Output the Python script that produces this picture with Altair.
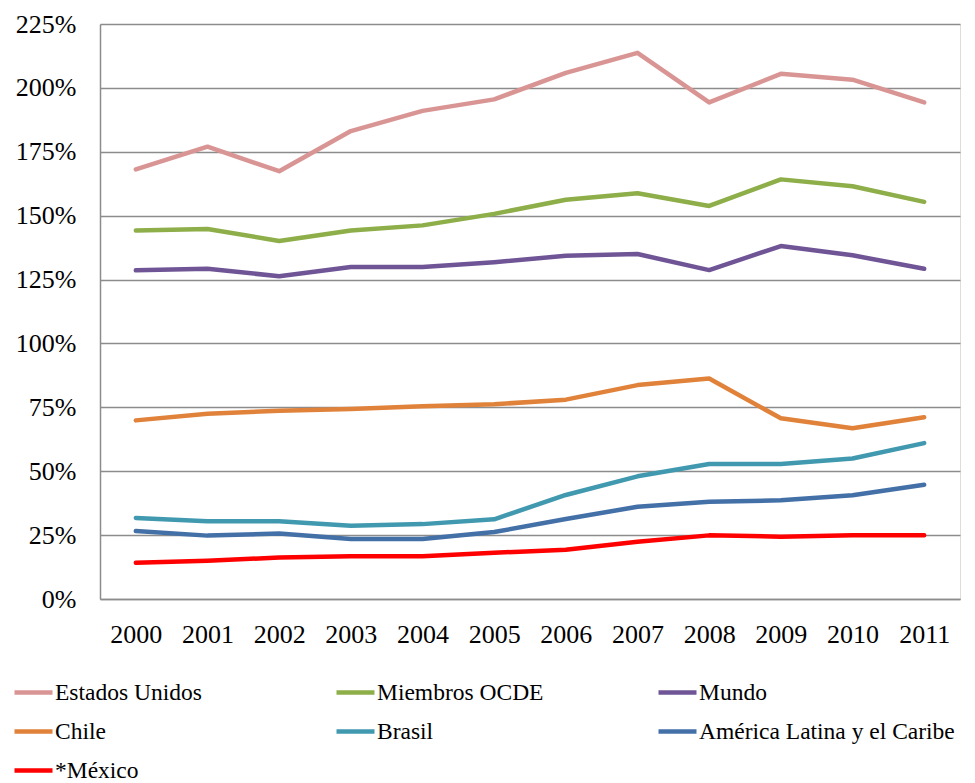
import altair as alt
import pandas as pd

years = ["2000", "2001", "2002", "2003", "2004", "2005", "2006", "2007", "2008", "2009", "2010", "2011"]
series_names = ["Estados Unidos", "Miembros OCDE", "Mundo", "Chile", "Brasil",
                "América Latina y el Caribe", "*México"]
colors = ["#D99594", "#8DAE48", "#6F5596", "#E0823A", "#4199B0", "#4470A8", "#FF0000"]

estados_unidos = [168.1, 177.0, 167.4, 183.1, 191.0, 195.5, 205.9, 213.7, 194.3, 205.5, 203.2, 194.3]
miembros_ocde = [144.2, 144.8, 140.1, 144.2, 146.2, 150.7, 156.2, 158.8, 153.8, 164.2, 161.5, 155.4]
mundo = [128.6, 129.2, 126.3, 129.9, 129.9, 131.8, 134.3, 135.0, 128.7, 138.1, 134.5, 129.2]
chile = [69.9, 72.5, 73.7, 74.3, 75.4, 76.2, 78.0, 83.7, 86.3, 70.7, 66.8, 71.1]
brasil = [31.7, 30.4, 30.4, 28.7, 29.3, 31.2, 40.7, 48.0, 52.8, 52.8, 55.0, 61.0]
america_latina = [26.6, 24.8, 25.6, 23.5, 23.5, 26.2, 31.3, 36.1, 38.1, 38.6, 40.6, 44.7]
mexico = [14.2, 15.0, 16.2, 16.7, 16.7, 18.1, 19.3, 22.4, 24.9, 24.4, 24.9, 24.9]
y_ticks = [0, 25, 50, 75, 100, 125, 150, 175, 200, 225]

all_values = [estados_unidos, miembros_ocde, mundo, chile, brasil, america_latina, mexico]
rows = []
for i, (name, vals) in enumerate(zip(series_names, all_values)):
    for yr, v in zip(years, vals):
        rows.append({"Año": yr, "Serie": name, "Valor": v, "orden": i})
df = pd.DataFrame(rows)

FONT = "Liberation Serif"

chart = alt.Chart(df).mark_line(strokeWidth=4.5, strokeCap="round", strokeJoin="round").encode(
    x=alt.X("Año:O", sort=years,
            scale=alt.Scale(type="point", padding=0.5),
            axis=alt.Axis(title=None, labelAngle=0, ticks=False, grid=False,
                          labelFont=FONT, labelFontSize=26, labelColor="black",
                          labelPadding=22, domainColor="#8c8c8c", domainWidth=1.5)),
    y=alt.Y("Valor:Q",
            scale=alt.Scale(domain=[0, 225], nice=False, zero=True),
            axis=alt.Axis(title=None, values=y_ticks, labelExpr="datum.value + '%'",
                          ticks=False, grid=True, gridColor="#8c8c8c", gridWidth=1.5,
                          labelFont=FONT, labelFontSize=26, labelColor="black",
                          labelPadding=24, domainColor="#8c8c8c", domainWidth=1.5)),
    color=alt.Color("Serie:N",
                    scale=alt.Scale(domain=series_names, range=colors),
                    legend=alt.Legend(title=None, orient="none", legendX=-88, legendY=647,
                                      direction="horizontal", columns=3, gridAlign="all",
                                      columnPadding=16, rowPadding=6,
                                      symbolType="stroke", symbolSize=1444,
                                      symbolStrokeWidth=4.5, labelOffset=0,
                                      labelFont=FONT, labelFontSize=23.5, labelColor="black",
                                      labelLimit=400)),
    order=alt.Order("orden:Q"),
    detail="Serie:N",
).properties(
    width=860,
    height=575,
    autosize=alt.AutoSizeParams(type="none"),
    padding={"left": 92, "top": 16, "right": 7, "bottom": 184},
).configure_view(stroke=None).configure(background="white")

chart.save("out.html", embed_options={"renderer": "svg", "actions": False})
